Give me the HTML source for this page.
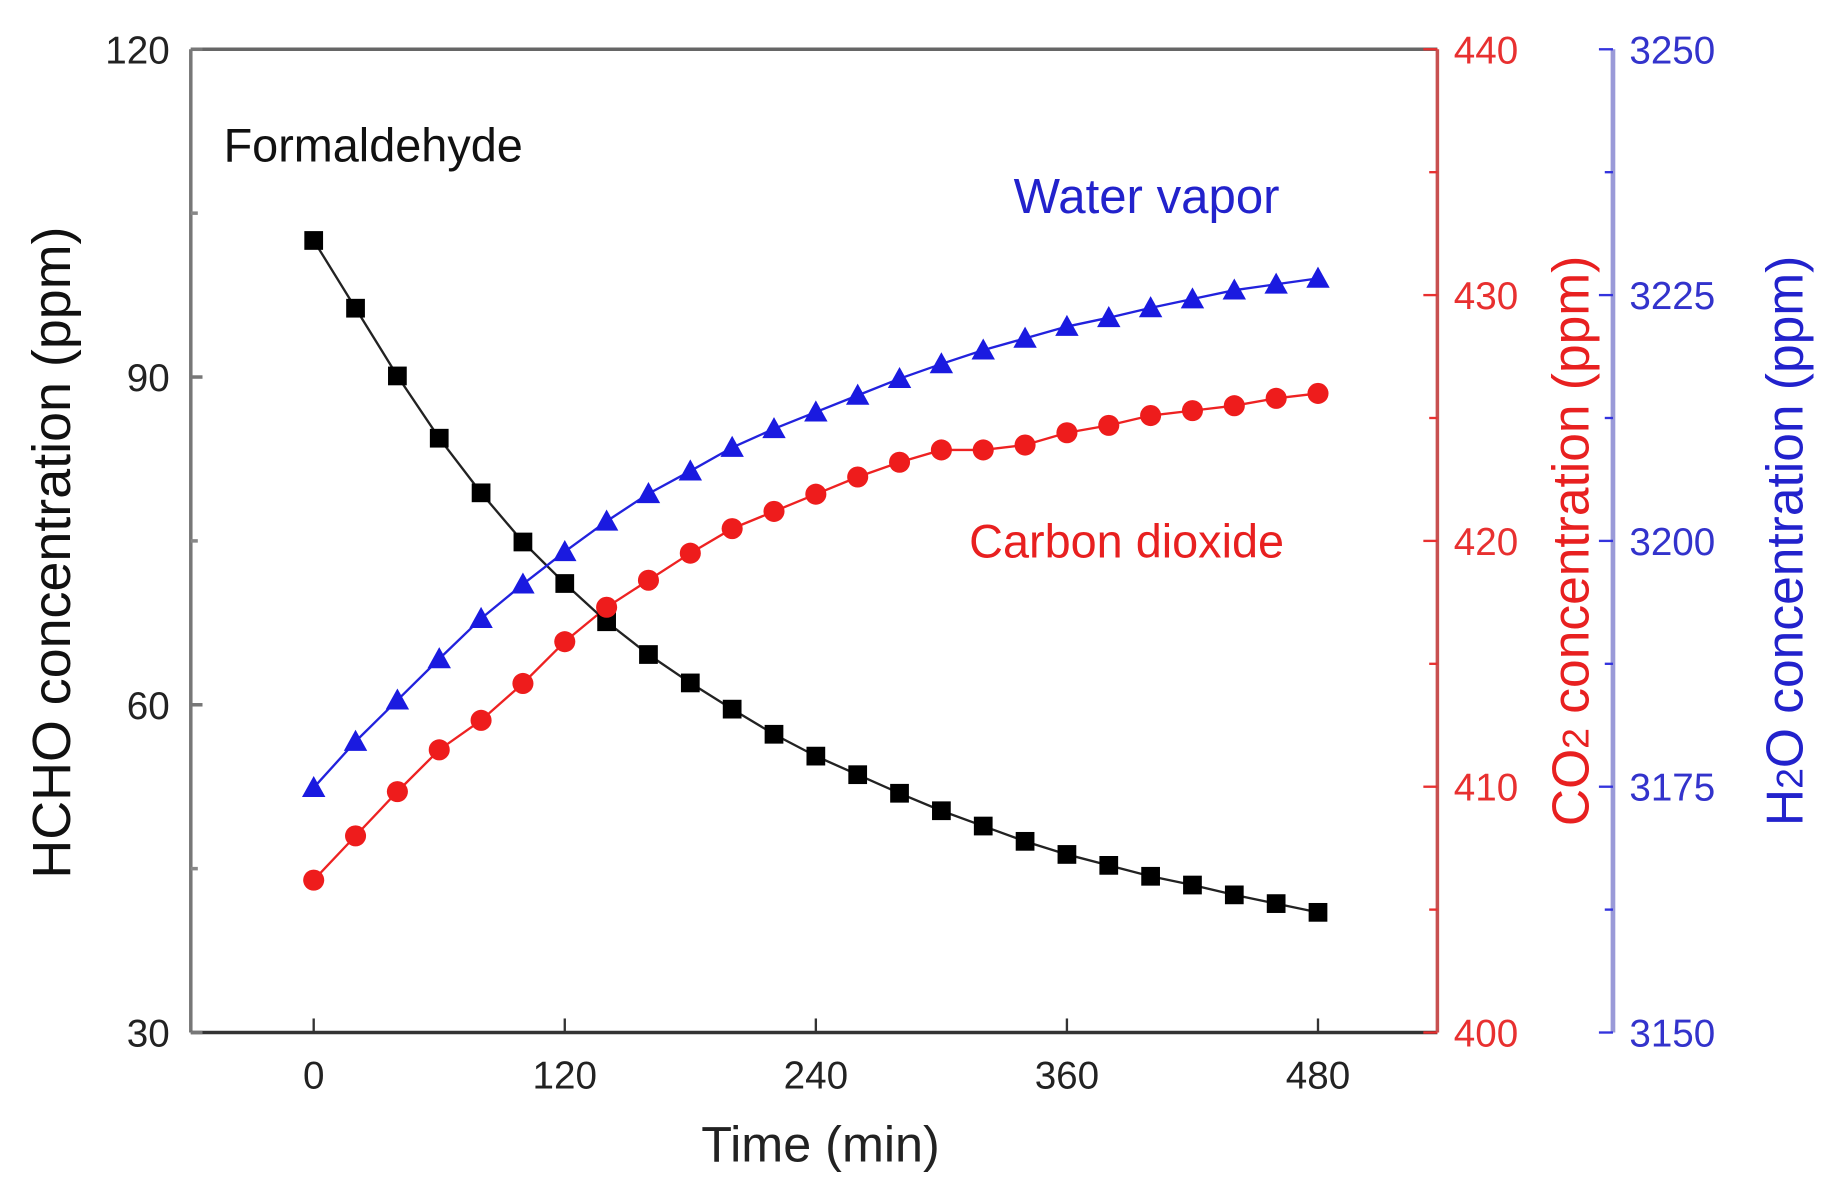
<!DOCTYPE html>
<html><head><meta charset="utf-8"><style>
html,body{margin:0;padding:0;background:#fff;}
svg{display:block;}
text{font-family:"Liberation Sans",Arial,sans-serif;}
</style></head><body>
<svg id="chart" width="1826" height="1193" viewBox="0 0 1560 1019" xmlns="http://www.w3.org/2000/svg">
<g id="axes"></g>
<g id="series"></g>
<text x="191" y="138" font-size="40" fill="#111">Formaldehyde</text>
<text x="866" y="182" font-size="42" fill="#2222cc">Water vapor</text>
<text x="828" y="476" font-size="40" fill="#e82020">Carbon dioxide</text>
<text x="701" y="992" font-size="43" fill="#222" text-anchor="middle">Time (min)</text>
<text transform="translate(60,472) rotate(-90)" font-size="46" fill="#111" text-anchor="middle">HCHO concentration (ppm)</text>
<text transform="translate(1357,462) rotate(-90)" font-size="44" fill="#e82020" text-anchor="middle">CO<tspan font-size="32">2</tspan> concentration (ppm)</text>
<text transform="translate(1540,462) rotate(-90)" font-size="44" fill="#2222cc" text-anchor="middle">H<tspan font-size="32">2</tspan>O concentration (ppm)</text>
</svg>
<script>
const times = [0,20,40,60,80,100,120,140,160,180,200,220,240,260,280,300,320,340,360,380,400,420,440,460,480];
const hcho = [102.5,96.3,90.1,84.4,79.4,74.9,71.1,67.6,64.6,62.0,59.6,57.3,55.3,53.6,51.9,50.3,48.9,47.5,46.3,45.3,44.3,43.5,42.6,41.8,41.0];
const co2 = [406.2,408.0,409.8,411.5,412.7,414.2,415.9,417.3,418.4,419.5,420.5,421.2,421.9,422.6,423.2,423.7,423.7,423.9,424.4,424.7,425.1,425.3,425.5,425.8,426.0];
const h2o = [3174.9,3179.6,3183.8,3188.0,3192.1,3195.6,3198.9,3202.0,3204.8,3207.1,3209.5,3211.4,3213.1,3214.8,3216.5,3218.0,3219.4,3220.6,3221.8,3222.7,3223.7,3224.6,3225.5,3226.1,3226.7];
const xTicks = [0,120,240,360,480];
const hchoTicks = [30,60,90,120];
const co2Ticks = [400,410,420,430,440];
const h2oTicks = [3150,3175,3200,3225,3250];

const L=163,R=1228,T=42,B=882,BX=1378;
const xs = t => 268 + (t-0)/480*(1126-268);
const yH = v => B - (v-30)/90*(B-T);
const yC = v => B - (v-400)/40*(B-T);
const yW = v => B - (v-3150)/100*(B-T);
const NS="http://www.w3.org/2000/svg";
function mk(tag, attrs, parent){const e=document.createElementNS(NS,tag);for(const k in attrs)e.setAttribute(k,attrs[k]);parent.appendChild(e);return e;}
const ax=document.getElementById('axes'), sr=document.getElementById('series');

let e;
e=mk('line',{x1:L,y1:T,x2:R,y2:T,stroke:'#666','stroke-width':3},ax);


e=mk('line',{x1:L,y1:T,x2:L,y2:B,stroke:'#777','stroke-width':3},ax);


e=mk('line',{x1:L,y1:B,x2:R,y2:B,stroke:'#333','stroke-width':3},ax);


e=mk('line',{x1:R,y1:T,x2:R,y2:B,stroke:'#c85050','stroke-width':3},ax);


e=mk('line',{x1:BX,y1:T,x2:BX,y2:B,stroke:'#9a9ad8','stroke-width':4},ax);



xTicks.forEach(t=>{
  e=mk('line',{x1:xs(t),y1:B,x2:xs(t),y2:B-12,stroke:'#333','stroke-width':2},ax);
  
  
  e=mk('text',{x:xs(t),y:B+48,'font-size':33,fill:'#222','text-anchor':'middle'},ax);
  e.textContent=t;
  
  
});
for(let i=0;i<hchoTicks.length;i++){
  const v=hchoTicks[i];
  e=mk('line',{x1:L,y1:yH(v),x2:L+10,y2:yH(v),stroke:'#777','stroke-width':3},ax);
  
  
  if(i<hchoTicks.length-1){const m=(v+hchoTicks[i+1])/2;
    e=mk('line',{x1:L,y1:yH(m),x2:L+6,y2:yH(m),stroke:'#888','stroke-width':3},ax);
    
    }
  e=mk('text',{x:L-18,y:yH(v)+12,'font-size':33,fill:'#222','text-anchor':'end'},ax);
  e.textContent=v;
  
  
}
for(let i=0;i<co2Ticks.length;i++){
  const v=co2Ticks[i];
  e=mk('line',{x1:R-12,y1:yC(v),x2:R,y2:yC(v),stroke:'#e83030','stroke-width':2},ax);
  
  
  if(i<co2Ticks.length-1){const m=(v+co2Ticks[i+1])/2;
    e=mk('line',{x1:R-7,y1:yC(m),x2:R,y2:yC(m),stroke:'#e83030','stroke-width':2},ax);
    
    }
  e=mk('text',{x:R+14,y:yC(v)+12,'font-size':33,fill:'#e83030'},ax);
  e.textContent=v;
  
  
}
for(let i=0;i<h2oTicks.length;i++){
  const v=h2oTicks[i];
  e=mk('line',{x1:BX-12,y1:yW(v),x2:BX,y2:yW(v),stroke:'#3333dd','stroke-width':2},ax);
  
  
  if(i<h2oTicks.length-1){const m=(v+h2oTicks[i+1])/2;
    e=mk('line',{x1:BX-7,y1:yW(m),x2:BX,y2:yW(m),stroke:'#3333dd','stroke-width':2},ax);
    
    }
  e=mk('text',{x:BX+14,y:yW(v)+12,'font-size':33,fill:'#3333cc'},ax);
  e.textContent=v;
  
  
}

function line(vals, yf, color, name){
  const pts=vals.map((v,i)=>xs(times[i])+','+yf(v)).join(' ');
  const p=mk('polyline',{points:pts,fill:'none',stroke:color,'stroke-width':2},sr);
  
  
}
line(hcho,yH,'#222','hcho-line');
line(co2,yC,'#ee2222','co2-line');
line(h2o,yW,'#2222dd','h2o-line');
hcho.forEach((v,i)=>{
  const m=mk('rect',{x:xs(times[i])-8,y:yH(v)-8,width:16,height:16,fill:'#000'},sr);
  
  
});
co2.forEach((v,i)=>{
  const m=mk('circle',{cx:xs(times[i]),cy:yC(v),r:9,fill:'#ee1c1c'},sr);
  
  
});
h2o.forEach((v,i)=>{
  const x=xs(times[i]),y=yW(v);
  const m=mk('polygon',{points:`${x},${y-10} ${x+10},${y+8} ${x-10},${y+8}`,fill:'#1a1ae0'},sr);
  
  
});
</script>
</body></html>
